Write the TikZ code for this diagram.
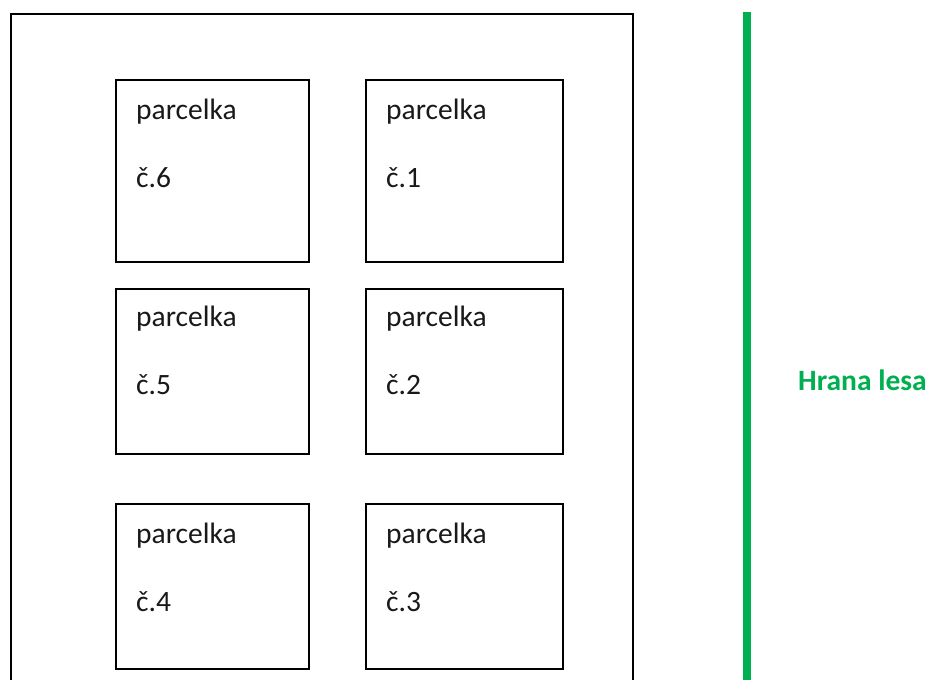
\documentclass[tikz,border=0pt]{standalone}
\usepackage{fontspec}
\setmainfont{Carlito}
\definecolor{lesgreen}{RGB}{0,176,80}
\tikzset{
  plotbox/.style={draw=black, line width=2pt, fill=white, anchor=north west, inner sep=0pt},
  lbl/.style={anchor=base west, inner sep=0pt, font=\fontsize{29.5}{34}\selectfont, text=black!90},
}
\begin{document}
\begin{tikzpicture}[x=1pt,y=-1pt]
\clip (0,0) rectangle (929,680);
\fill[white] (0,0) rectangle (929,680);
% outer plot
\node[plotbox, minimum width=622pt, minimum height=700pt] (outer) at (10,13) {};
% parcels
\node[plotbox, minimum width=193pt, minimum height=182pt] (p6) at (115,79) {};
\node[plotbox, minimum width=197pt, minimum height=182pt] (p1) at (365,79) {};
\node[plotbox, minimum width=193pt, minimum height=165pt] (p5) at (115,288) {};
\node[plotbox, minimum width=197pt, minimum height=165pt] (p2) at (365,288) {};
\node[plotbox, minimum width=193pt, minimum height=165pt] (p4) at (115,503) {};
\node[plotbox, minimum width=197pt, minimum height=165pt] (p3) at (365,503) {};
\foreach \p/\n/\d in {p6/6/40, p1/1/40, p5/5/38, p2/2/38, p4/4/40, p3/3/40}{
  \node[lbl] (\p a) at ([xshift=21pt,yshift=-\d pt]\p.north west) {parcelka};
  \node[lbl] (\p b) at ([yshift=-68pt]\p a.base west) {č.\n};
}
% forest edge
\coordinate (gtop) at (747,12);
\coordinate (gbot) at (747,700);
\draw[lesgreen, line width=8pt] (gtop) -- (gbot);
\node[lbl, text=lesgreen, font=\fontsize{29.5}{34}\selectfont\bfseries] (hrana) at (798,390) {Hrana lesa};
\end{tikzpicture}
\end{document}
